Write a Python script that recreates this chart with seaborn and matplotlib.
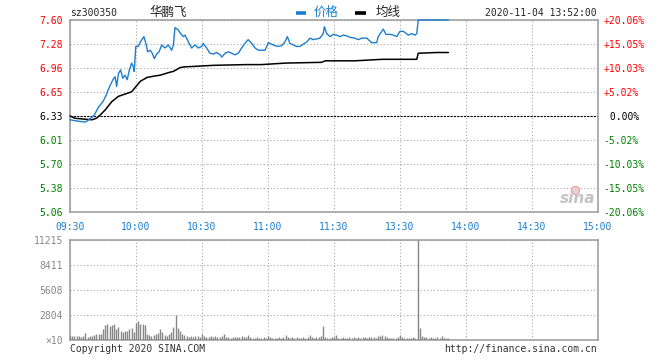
import numpy as np
import matplotlib
matplotlib.use("Agg")
import matplotlib.pyplot as plt
import seaborn as sns
from matplotlib.lines import Line2D

# ---------------- data ----------------
stock_code = "sz300350"
stock_name = "华鹏飞"
timestamp = "2020-11-04 13:52:00"
base_price = 6.33

# minutes since 09:30 (lunch break removed), price
price_minutes = [0, 2, 4, 7, 9, 11, 13, 15, 16.5, 18, 19.5, 20.5, 21.2, 22, 23, 24, 25, 26, 27, 28,
                 28.8, 29.2, 29.9, 31, 32, 33.6, 34.5, 35.3, 36.4, 37.4, 38.3, 39.4, 40.5, 41.7, 43.2,
                 44.7, 46.2, 47, 47.7, 49.2, 50.3, 51.5, 52.3, 53.8, 55.3, 56.8, 58.3, 59.9, 60.6, 62.1,
                 63.6, 65.1, 66.7, 68.2, 69, 70.5, 72, 73.5, 75, 76.5, 78, 79.5, 81, 82.6, 84.1, 85.6,
                 88.6, 89.4, 90.1, 91.7, 93.2, 94.7, 96.2, 97.7, 98.8, 100, 101.5, 103, 104.5, 106,
                 107.6, 109.1, 110.6, 112.1, 113.6, 115.1, 115.6, 116.7, 118.2, 119.7, 121.2, 122.7,
                 124.2, 125.8, 127.3, 129.5, 131, 132.6, 134.9, 137.1, 139.4, 140.1, 141.7, 142.4,
                 143.6, 145.5, 147, 148.5, 150, 151.5, 153.8, 155.3, 156.8, 157.6, 158.3, 172]
price_values = [6.28, 6.27, 6.26, 6.25, 6.29, 6.34, 6.45, 6.52, 6.61, 6.72, 6.81, 6.85, 6.72, 6.89,
                6.94, 6.83, 6.87, 6.81, 6.94, 7.03, 6.98, 6.92, 7.25, 7.25, 7.31, 7.38, 7.29, 7.18,
                7.20, 7.16, 7.09, 7.15, 7.18, 7.27, 7.23, 7.27, 7.20, 7.27, 7.50, 7.47, 7.42, 7.38,
                7.40, 7.31, 7.23, 7.27, 7.23, 7.25, 7.29, 7.23, 7.16, 7.15, 7.17, 7.14, 7.11, 7.16,
                7.18, 7.16, 7.14, 7.16, 7.23, 7.29, 7.34, 7.29, 7.23, 7.20, 7.20, 7.25, 7.30, 7.28,
                7.26, 7.25, 7.26, 7.31, 7.38, 7.29, 7.27, 7.25, 7.25, 7.28, 7.31, 7.36, 7.34, 7.35,
                7.36, 7.42, 7.51, 7.42, 7.38, 7.41, 7.40, 7.38, 7.40, 7.39, 7.37, 7.36, 7.34, 7.36,
                7.36, 7.30, 7.30, 7.38, 7.45, 7.48, 7.41, 7.41, 7.40, 7.38, 7.45, 7.45, 7.40, 7.42,
                7.40, 7.42, 7.60, 7.60]

avg_minutes = [0, 2.3, 6, 10, 12, 13.6, 16, 19, 22, 25, 28, 30, 32, 35, 38.6, 41, 45.5, 47, 50, 52,
               59, 65, 80, 87, 98, 114.4, 116, 129.5, 142, 157.6, 158.3, 166.7, 172]
avg_values = [6.33, 6.30, 6.29, 6.28, 6.30, 6.34, 6.41, 6.52, 6.59, 6.62, 6.65, 6.72, 6.79, 6.84,
              6.86, 6.87, 6.91, 6.92, 6.97, 6.98, 6.99, 7.00, 7.01, 7.01, 7.03, 7.04, 7.06, 7.06,
              7.08, 7.08, 7.16, 7.17, 7.17]

# one volume bar per minute, 09:30 .. 13:52
volume = [400, 350, 400, 450, 350, 300, 350, 700, 300, 350, 450, 500, 600, 650, 650, 1150, 1600,
          1700, 1550, 1650, 1700, 1150, 1450, 1000, 900, 950, 950, 1150, 1350, 800, 1900, 2100,
          1700, 1700, 1650, 600, 550, 450, 550, 600, 700, 1150, 900, 500, 400, 600, 900, 1400,
          2750, 1350, 1000, 600, 500, 400, 250, 400, 300, 350, 400, 300, 600, 350, 300, 250, 350,
          300, 450, 250, 300, 350, 600, 250, 250, 200, 250, 250, 300, 250, 350, 250, 300, 550,
          250, 200, 200, 300, 200, 150, 250, 200, 350, 300, 200, 150, 200, 250, 200, 300, 500,
          250, 200, 300, 200, 250, 150, 200, 250, 200, 300, 500, 250, 200, 300, 250, 400, 1500,
          300, 200, 150, 250, 300, 550, 200, 150, 250, 200, 200, 250, 200, 300, 200, 250, 200,
          300, 250, 200, 300, 250, 300, 200, 400, 450, 500, 350, 250, 200, 150, 200, 150, 250,
          550, 300, 200, 150, 200, 150, 250, 200, 11215, 1300, 450, 300, 250, 200, 250, 200, 150,
          250, 200, 350, 150, 200, 150]
volume_minutes = list(range(len(volume)))

time_labels = ["09:30", "10:00", "10:30", "11:00", "11:30", "13:30", "14:00", "14:30", "15:00"]
price_labels = ["5.06", "5.38", "5.70", "6.01", "6.33", "6.65", "6.96", "7.28", "7.60"]
pct_labels = ["-20.06%", "-15.05%", "-10.03%", "-5.02%", " 0.00%", "+5.02%", "+10.03%",
              "+15.05%", "+20.06%"]
vol_tick_values = [0, 2804, 5608, 8411, 11215]
vol_tick_labels = ["\u00d710", "2804", "5608", "8411", "11215"]

# ---------------- style ----------------
sns.set_style("white")
MONO = "DejaVu Sans Mono"
plt.rcParams["font.family"] = [MONO, "Noto Sans CJK SC"]
BLUE = "#1c7ecf"
RED = "#ff0000"
GREEN = "#008000"
GRID = "#a8a8a8"
FRAME = "#9a9a9a"
FS = 7

W, H = 660, 360
fig = plt.figure(figsize=(W / 100, H / 100), dpi=100)
fig.patch.set_facecolor("white")

ax = fig.add_axes([70 / W, 1 - 212 / H, 528 / W, 192 / H])
axv = fig.add_axes([70 / W, 1 - 339.5 / H, 528 / W, 99.5 / H])

dots = (0, (1, 2))
for a in (ax, axv):
    a.set_xlim(0, 240)
    a.set_xticks(np.arange(0, 241, 30))
    for s in a.spines.values():
        s.set_color(FRAME)
        s.set_linewidth(1.1)
        s.set_visible(True)
    a.tick_params(length=0)
    a.grid(True, color=GRID, linestyle=dots, linewidth=0.8)
    a.set_facecolor("white")

# main price panel
pmin, pmax = 5.06, 7.60
ax.set_ylim(pmin, pmax)
ticks = np.linspace(pmin, pmax, 9)
ax.set_yticks(ticks)
ax.set_yticklabels(price_labels, fontsize=FS, family=MONO)
for lbl, c in zip(ax.get_yticklabels(), [GREEN] * 4 + ["black"] + [RED] * 4):
    lbl.set_color(c)
ax.tick_params(axis="y", pad=5)
ax.set_xticklabels(time_labels, fontsize=FS, family=MONO, color=BLUE)
ax.tick_params(axis="x", pad=7)
ax.get_ygridlines()[4].set_visible(False)
ax.axhline(base_price, color="black", linestyle=(0, (2, 1)), linewidth=0.8, zorder=2)

ax2 = ax.twinx()
ax2.set_ylim(pmin, pmax)
ax2.set_yticks(ticks)
ax2.set_yticklabels(pct_labels, fontsize=FS, family=MONO)
for lbl, c in zip(ax2.get_yticklabels(), [GREEN] * 4 + ["black"] + [RED] * 4):
    lbl.set_color(c)
ax2.tick_params(length=0, pad=4)
for s in ax2.spines.values():
    s.set_visible(False)

sns.lineplot(x=avg_minutes, y=avg_values, ax=ax, color="black", linewidth=1.1,
             estimator=None, sort=False, zorder=4)
sns.lineplot(x=price_minutes, y=price_values, ax=ax, color=BLUE, linewidth=1.0,
             estimator=None, sort=False, zorder=5)
for ln in ax.get_lines()[-2:]:
    ln.set_clip_on(False)

# sina watermark
ax.scatter([0.957], [0.115], transform=ax.transAxes, s=34, facecolor="#f2d0d0",
           edgecolor="#e0a0a0", linewidth=0.8, zorder=1, clip_on=False)
ax.text(0.962, 0.07, "sina", transform=ax.transAxes, ha="center", va="center",
        fontsize=11, fontweight="bold", style="italic", color="#c4c4c4", family="DejaVu Sans",
        zorder=2)

# volume panel
axv.set_ylim(0, 11215)
axv.set_yticks(vol_tick_values)
axv.set_yticklabels(vol_tick_labels, fontsize=FS, family=MONO, color="#888888")
axv.tick_params(axis="y", pad=5)
axv.set_xticklabels([])
axv.vlines(volume_minutes, 0, volume, color="#868686", linewidth=1.0, zorder=3)

# header / footer text
def fx(x):
    return x / W

def fy(y):
    return 1 - y / H

fig.text(fx(70), fy(12.5), stock_code, fontsize=FS, family=MONO, va="center", ha="left")
fig.text(fx(149), fy(12.5), stock_name, fontsize=9, family="Noto Sans CJK SC", va="center", ha="left")
fig.add_artist(Line2D([fx(296), fx(306)], [fy(12.5), fy(12.5)], color=BLUE, linewidth=2.6,
                      solid_capstyle="butt"))
fig.text(fx(314), fy(12.5), "价格", fontsize=9, family="Noto Sans CJK SC", va="center", ha="left", color=BLUE)
fig.add_artist(Line2D([fx(355), fx(366)], [fy(12.5), fy(12.5)], color="black", linewidth=2.6,
                      solid_capstyle="butt"))
fig.text(fx(376), fy(12.5), "均线", fontsize=9, family="Noto Sans CJK SC", va="center", ha="left")
fig.text(fx(597), fy(12.5), timestamp, fontsize=FS, family=MONO, va="center", ha="right")

fig.text(fx(70), fy(349), "Copyright 2020 SINA.COM", fontsize=FS, family=MONO, va="center",
         ha="left", color="#333333")
fig.text(fx(597), fy(349), "http://finance.sina.com.cn", fontsize=FS, family=MONO, va="center",
         ha="right", color="#333333")

fig.savefig("out.png", dpi=100, facecolor="white")
